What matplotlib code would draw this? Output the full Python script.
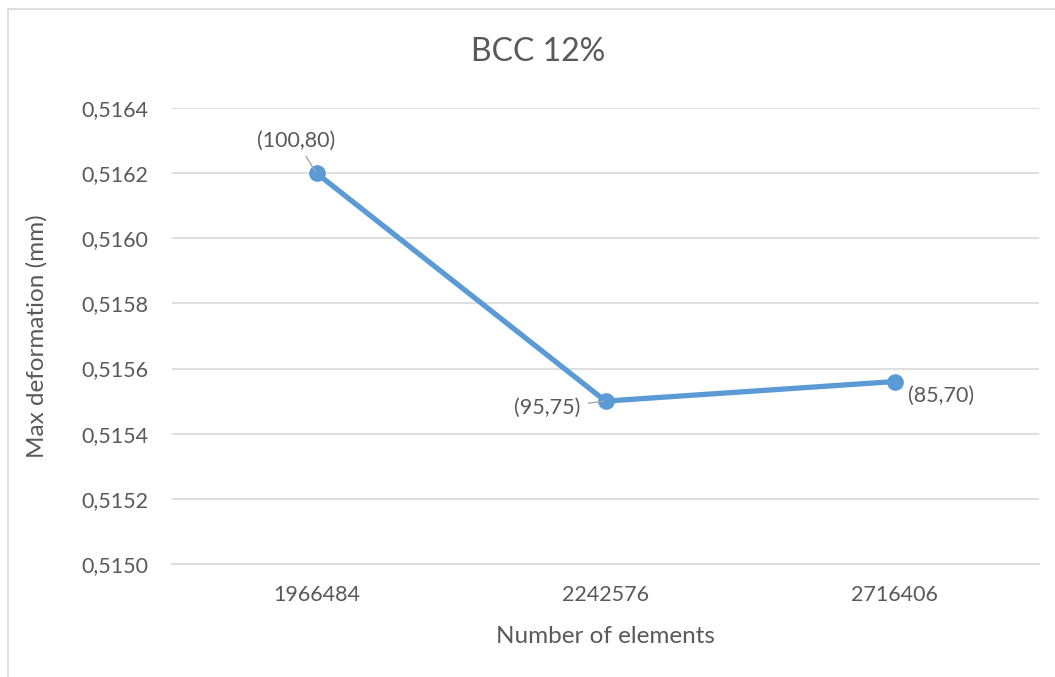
import matplotlib.pyplot as plt
import matplotlib.patches as patches
from matplotlib.ticker import FuncFormatter, MultipleLocator

plt.rcParams['font.family'] = ['Lato', 'DejaVu Sans']

# données
elements = ['1966484', '2242576', '2716406']
deformation = [0.5162, 0.5155, 0.51556]
etiquettes = ['(100,80)', '(95,75)', '(85,70)']

gris = '#595959'
bleu = '#5B9BD5'

fig = plt.figure(figsize=(10.55, 6.77), dpi=100)
ax = fig.add_axes([0.163, 0.167, 0.822, 0.6735])

x = range(len(elements))
ax.plot(x, deformation, color=bleu, lw=3.8, marker='o', ms=11, zorder=3,
        solid_capstyle='round')

# étiquettes des points
ax.annotate(etiquettes[0], (0, deformation[0]), xytext=(-14.5, 23),
            textcoords='offset points', ha='center', va='center',
            fontsize=15.5, color=gris,
            arrowprops=dict(arrowstyle='-', color='#A6A6A6', lw=1,
                            shrinkA=2, shrinkB=1))
ax.annotate(etiquettes[1], (1, deformation[1]), xytext=(-18.5, -5),
            textcoords='offset points', ha='right', va='center',
            fontsize=15.5, color=gris,
            arrowprops=dict(arrowstyle='-', color='#A6A6A6', lw=1,
                            shrinkA=4, shrinkB=1))
ax.annotate(etiquettes[2], (2, deformation[2]), xytext=(9.5, -10),
            textcoords='offset points', ha='left', va='center',
            fontsize=15.5, color=gris)

ax.set_xlim(-0.5, 2.5)
ax.set_ylim(0.5150, 0.5164)
ax.set_xticks(list(x))
ax.set_xticklabels(elements)
ax.yaxis.set_major_locator(MultipleLocator(0.0002))
ax.yaxis.set_major_formatter(FuncFormatter(lambda v, p: f'{v:.4f}'.replace('.', ',')))

ax.grid(axis='y', color='#D9D9D9', lw=1.2)
ax.set_axisbelow(True)
for s in ['top', 'right', 'left']:
    ax.spines[s].set_visible(False)
ax.spines['bottom'].set_color('#D9D9D9')
ax.spines['bottom'].set_linewidth(1.2)
ax.tick_params(length=0, labelsize=15.5, labelcolor=gris, pad=15)
ax.tick_params(axis='y', pad=17)

ax.set_xlabel('Number of elements', fontsize=17.5, color=gris, labelpad=15)
ax.set_ylabel('Max deformation (mm)', fontsize=17.5, color=gris, labelpad=24)
fig.text(0.51, 0.923, 'BCC 12%', ha='center', va='center', fontsize=23, color=gris)

# cadre du graphique
fig.patches.append(patches.Rectangle((8 / 1055, -0.1), 2, 1 - 9 / 677 + 0.1,
                                     transform=fig.transFigure, fill=False,
                                     edgecolor='#D9D9D9', lw=1.2))

fig.savefig('out.png', dpi=100)
